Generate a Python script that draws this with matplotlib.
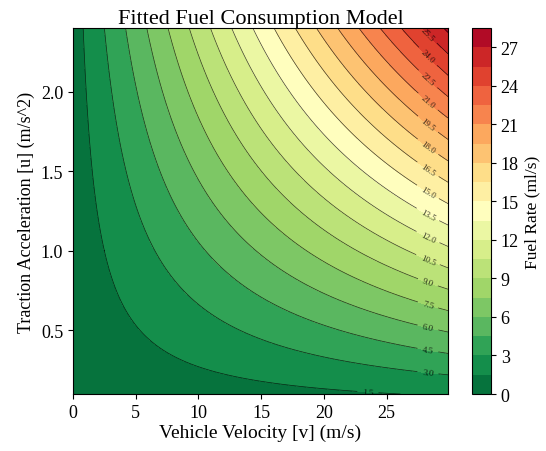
import numpy as np
import matplotlib
matplotlib.use("Agg")
import matplotlib.pyplot as plt

plt.rcParams["font.family"] = ["Liberation Serif", "DejaVu Serif"]

# fitted model coefficients: f = a0 + b_u*u + k_v*v + c_vu*v*u  (ml/s)
a0 = 0.42
b_u = 0.15
k_v = 0.004
c_vu = 0.368

v_range = [0.0, 29.9]       # vehicle velocity (m/s)
u_range = [0.1, 2.4]        # traction acceleration (m/s^2)
levels = np.arange(0, 28.6, 1.5)
label_levels = np.arange(1.5, 25.6, 1.5)
cbar_ticks = [0, 3, 6, 9, 12, 15, 18, 21, 24, 27]
x_ticks = [0, 5, 10, 15, 20, 25]
y_ticks = [0.5, 1.0, 1.5, 2.0]


def fuel(v, u):
    return a0 + b_u * u + k_v * v + c_vu * v * u


v = np.linspace(v_range[0], v_range[1], 300)
u = np.linspace(u_range[0], u_range[1], 300)
V, U = np.meshgrid(v, u)
F = fuel(V, U)

# label spots: close to the right edge, or along the bottom if the line leaves there
label_v = 28.3
spots = []
for lv in label_levels:
    uu = (lv - a0 - k_v * label_v) / (b_u + c_vu * label_v)
    if uu < 0.12:
        uu = 0.112
        vv = (lv - a0 - b_u * uu) / (k_v + c_vu * uu)
    else:
        vv = label_v
    spots.append((vv, uu))

fig = plt.figure(figsize=(5.46, 4.52), dpi=100)
ax = fig.add_axes([0.1337, 0.1261, 0.6868, 0.8097])
cax = fig.add_axes([0.8645, 0.1261, 0.0348, 0.8097])

cf = ax.contourf(V, U, F, levels=levels, cmap="RdYlGn_r")
cs = ax.contour(V, U, F, levels=levels[1:], colors="black", linewidths=0.5, alpha=0.75)
ax.clabel(cs, fmt="%.1f", fontsize=6.5, inline=True, manual=spots)

ax.set_xticks(x_ticks)
ax.set_yticks(y_ticks)
ax.tick_params(labelsize=13)
ax.set_xlabel("Vehicle Velocity [v] (m/s)", fontsize=14, labelpad=2)
ax.set_ylabel("Traction Acceleration [u] (m/s^2)", fontsize=13)
ax.set_title("Fitted Fuel Consumption Model", fontsize=16, pad=3)

cb = fig.colorbar(cf, cax=cax, ticks=cbar_ticks)
cb.ax.tick_params(labelsize=13)
cb.set_label("Fuel Rate (ml/s)", fontsize=12.5)

fig.savefig("out.png", dpi=100)
